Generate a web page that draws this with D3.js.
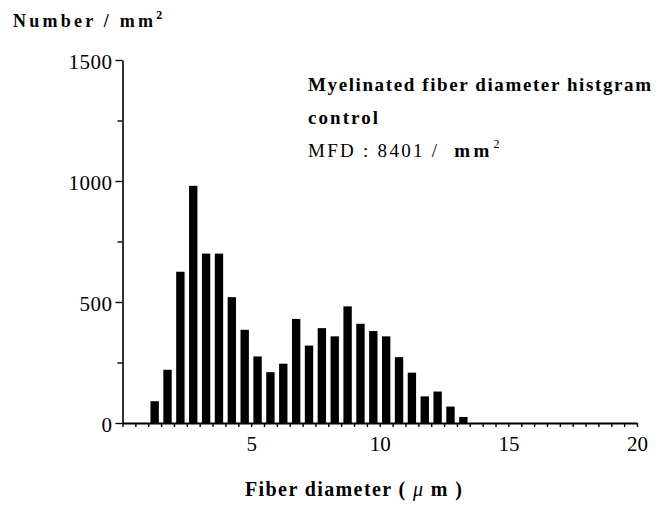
<!DOCTYPE html>
<html>
<head>
<meta charset="utf-8">
<script src="https://cdn.jsdelivr.net/npm/d3@7/dist/d3.min.js"></script>
<style>
  html, body { margin: 0; padding: 0; background: #fff; }
  svg { display: block; }
  text { font-family: "Liberation Serif", "DejaVu Serif", serif; fill: #000; }
</style>
</head>
<body>
<svg id="chart" width="671" height="513"></svg>
<script>
// Bin start (µm), bins 0.5 µm wide
const binStarts = [1.0, 1.5, 2.0, 2.5, 3.0, 3.5, 4.0, 4.5, 5.0, 5.5, 6.0, 6.5, 7.0,
                   7.5, 8.0, 8.5, 9.0, 9.5, 10.0, 10.5, 11.0, 11.5, 12.0, 12.5, 13.0];
// Number / mm^2
const counts = [90, 220, 625, 980, 700, 700, 520, 385, 275, 210, 245, 430, 320,
                392, 358, 482, 410, 380, 358, 272, 208, 110, 130, 68, 25];

const yMajorTicks = [0, 500, 1000, 1500];
const yMinorTicks = [250, 750, 1250];
const xLabelTicks = [5, 10, 15, 20];
const binWidth = 0.5;

const svg = d3.select("#chart");

const x = d3.scaleLinear().domain([0, 20]).range([122.5, 637]);
const y = d3.scaleLinear().domain([0, 1500]).range([423, 60]);

const binPx = x(binWidth) - x(0);
const barPx = binPx * 0.65;

// Bars
svg.append("g").selectAll("rect")
  .data(binStarts.map((b, i) => ({ b, v: counts[i] })))
  .join("rect")
  .attr("x", d => x(d.b) + (binPx - barPx) / 2)
  .attr("width", barPx)
  .attr("y", d => y(d.v))
  .attr("height", d => y(0) - y(d.v))
  .attr("fill", "#000");

// Y axis (major)
const yAxis = svg.append("g")
  .attr("transform", `translate(${x(0)},0)`)
  .call(d3.axisLeft(y).tickValues(yMajorTicks).tickSize(7).tickSizeOuter(0).tickPadding(3)
        .tickFormat(d3.format("d")));
yAxis.select(".domain").attr("stroke-width", 1.6);
yAxis.selectAll(".tick line").attr("stroke-width", 1.4);
yAxis.selectAll(".tick text")
  .style("font-family", '"Liberation Serif", serif')
  .style("font-size", "21px")
  .style("letter-spacing", "0.5px")
  .attr("dy", "0.42em");

// Y axis (minor)
const yMinor = svg.append("g")
  .attr("transform", `translate(${x(0)},0)`)
  .call(d3.axisLeft(y).tickValues(yMinorTicks).tickSize(5).tickSizeOuter(0).tickFormat(""));
yMinor.select(".domain").remove();
yMinor.selectAll(".tick line").attr("stroke-width", 1.4);

// X axis
const xTicks = d3.range(0, 20 + 1e-9, binWidth);
const xAxis = svg.append("g")
  .attr("transform", `translate(0,${y(0)})`)
  .call(d3.axisBottom(x).tickValues(xTicks).tickSize(4).tickSizeOuter(0).tickPadding(9)
        .tickFormat(d => xLabelTicks.includes(d) ? d3.format("d")(d) : ""));
xAxis.select(".domain").attr("stroke-width", 1.8);
xAxis.selectAll(".tick line").attr("stroke-width", 1.4);
xAxis.selectAll(".tick text")
  .style("font-family", '"Liberation Serif", serif')
  .style("font-size", "21px");

// Y title
const yTitle = svg.append("text")
  .attr("x", 13).attr("y", 27)
  .style("font-size", "18px").style("font-weight", "bold");
yTitle.append("tspan").text("Number /  mm").attr("textLength", 140).attr("lengthAdjust", "spacing");
yTitle.append("tspan").text("2").attr("dy", -8).style("font-size", "12px");

// Annotation
svg.append("text")
  .attr("x", 308).attr("y", 91)
  .attr("textLength", 343).attr("lengthAdjust", "spacing")
  .style("font-size", "19px").style("font-weight", "bold")
  .text("Myelinated fiber diameter histgram");
svg.append("text")
  .attr("x", 308).attr("y", 124)
  .attr("textLength", 70).attr("lengthAdjust", "spacing")
  .style("font-size", "19px").style("font-weight", "bold")
  .text("control");
const mfd = svg.append("text")
  .attr("x", 308).attr("y", 157)
  .style("font-size", "19px");
mfd.append("tspan").text("MFD : 8401 /").attr("textLength", 129).attr("lengthAdjust", "spacing");
mfd.append("tspan").text("mm").attr("dx", 15).style("font-weight", "bold")
   .attr("textLength", 35).attr("lengthAdjust", "spacing");
mfd.append("tspan").text("2").attr("dx", 1).attr("dy", -9).style("font-size", "12px");

// X title
const xTitle = svg.append("text")
  .attr("x", 245).attr("y", 496)
  .attr("textLength", 217).attr("lengthAdjust", "spacing")
  .style("font-size", "20px").style("font-weight", "bold");
xTitle.append("tspan").text("Fiber diameter ( ");
xTitle.append("tspan").text("\u03BC").style("font-style", "italic").style("font-weight", "normal");
xTitle.append("tspan").text(" m )");
</script>
</body>
</html>
